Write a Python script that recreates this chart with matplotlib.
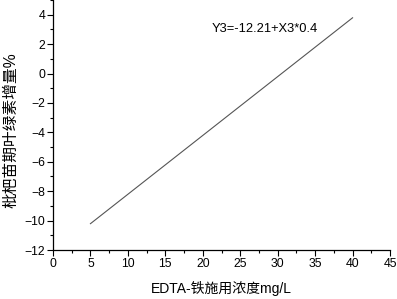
import matplotlib
import matplotlib.pyplot as plt
import numpy as np
from matplotlib.ticker import MultipleLocator

plt.switch_backend('agg')
plt.rcParams['font.family'] = ['Liberation Sans', 'Noto Sans CJK SC']

# fitted line endpoints (EDTA-Fe concentration vs chlorophyll increase)
conc = [5, 40]
incr = [-10.21, 3.79]
eq_text = 'Y3=-12.21+X3*0.4'
xlab = 'EDTA-铁施用浓度mg/L'
ylab = '枇杷苗期叶绿素增量%'

fig = plt.figure(figsize=(3.97, 2.99), dpi=100)
ax = fig.add_axes([53/397, 49/299, 337/397, 250/299])

ax.plot(conc, incr, color='#555555', lw=0.8)
ax.text(21.2, 3.0, eq_text, fontsize=9.3, va='center', ha='left')

ax.set_xlim(0, 45)
ax.set_ylim(-12, 5)
ax.xaxis.set_major_locator(MultipleLocator(5))
ax.xaxis.set_minor_locator(MultipleLocator(2.5))
ax.yaxis.set_major_locator(MultipleLocator(2))
ax.yaxis.set_minor_locator(MultipleLocator(1))
ax.set_yticks(np.arange(-12, 5, 2))

for s in ['top', 'right']:
    ax.spines[s].set_visible(False)
for s in ['left', 'bottom']:
    ax.spines[s].set_linewidth(0.9)

ax.tick_params(which='major', direction='out', length=4, width=0.8, labelsize=8.8, pad=1.5)
ax.tick_params(which='minor', direction='out', length=2, width=0.8)

ax.set_xlabel(xlab, fontsize=10, labelpad=8)
ax.set_ylabel(ylab, fontsize=11.3)
ax.yaxis.set_label_coords(-0.102, 0.48)

plt.savefig('out.png', dpi=100)
